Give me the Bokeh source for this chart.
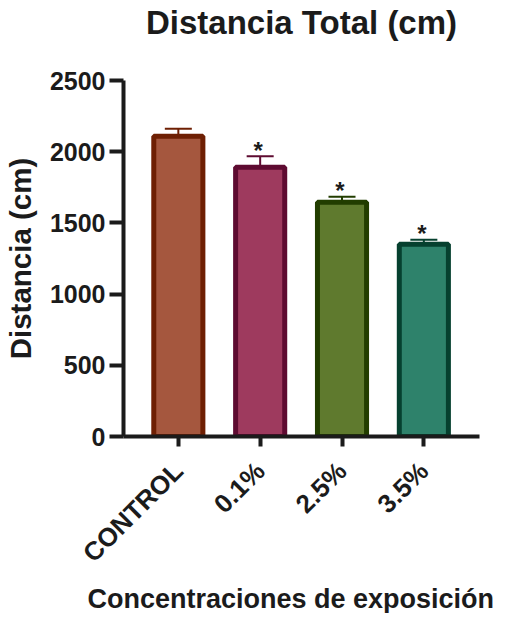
import math
from bokeh.plotting import figure
from bokeh.models import FixedTicker, Range1d, ColumnDataSource, Title
from bokeh.core.properties import value
from bokeh.embed import file_html
from bokeh.resources import INLINE

categories = ["CONTROL", "0.1%", "2.5%", "3.5%"]
means = [2108, 1890, 1645, 1350]
sems = [53, 78, 38, 32]
significant = ["", "*", "*", "*"]
fill_colors = ["#a5573e", "#9e3a5e", "#5f7a2e", "#2e826b"]
line_colors = ["#6e1f03", "#5e0b31", "#223d00", "#06402f"]
y_ticks = [0, 500, 1000, 1500, 2000, 2500]

FONT = "Liberation Sans"
TXT = "#1b1b1b"

xs = list(range(len(categories)))
src = ColumnDataSource(dict(
    x=xs, top=means, fill=fill_colors, line=line_colors,
    up=[m + s for m, s in zip(means, sems)],
    cap_l=[x - 0.165 for x in xs], cap_r=[x + 0.165 for x in xs],
    star=significant,
))

p = figure(frame_width=356, frame_height=356,
           min_border_left=116, min_border_right=32,
           min_border_top=80, min_border_bottom=172,
           x_range=Range1d(-0.67, 3.68), y_range=Range1d(0, 2500),
           output_backend="svg", toolbar_location=None, tools="")
p.outline_line_color = None
p.grid.visible = False
p.background_fill_color = "white"

p.vbar(x="x", top="top", bottom=0, width=0.6, source=src,
       fill_color="fill", line_color="line", line_width=5)
p.segment(x0="x", y0="top", x1="x", y1="up", source=src, line_color="line", line_width=2)
p.segment(x0="cap_l", y0="up", x1="cap_r", y1="up", source=src, line_color="line", line_width=2)
p.text(x="x", y="up", text="star", source=src, text_align="center",
       text_baseline="alphabetic", y_offset=-6, x_offset=-2,
       text_font=value(FONT), text_font_style="bold", text_font_size="24px", text_color=TXT)

# axes
for ax in (p.xaxis[0], p.yaxis[0]):
    ax.axis_line_width = 4
    ax.axis_line_color = TXT
    ax.major_tick_line_width = 4
    ax.major_tick_line_color = TXT
    ax.minor_tick_line_color = None
    ax.major_tick_in = 0
    ax.major_label_text_font = FONT
    ax.major_label_text_font_style = "bold"
    ax.major_label_text_color = TXT

p.yaxis.ticker = FixedTicker(ticks=y_ticks)
p.yaxis.major_tick_out = 14
p.yaxis.major_label_standoff = 4
p.yaxis.major_label_text_font_size = "25px"
p.yaxis.axis_label = "Distancia (cm)"
p.yaxis.axis_label_text_font = FONT
p.yaxis.axis_label_text_font_style = "bold"
p.yaxis.axis_label_text_font_size = "29.5px"
p.yaxis.axis_label_text_color = TXT
p.yaxis.axis_label_standoff = 10

p.xaxis.ticker = FixedTicker(ticks=xs)
p.xaxis.major_label_overrides = {i: c for i, c in zip(xs, categories)}
p.xaxis.major_tick_out = 10
p.xaxis.major_label_standoff = 20
p.xaxis.major_label_text_font_size = "26px"
p.xaxis.major_label_orientation = math.pi / 4

# spacer between frame and title
p.add_layout(Title(text=" ", standoff=35, text_font_size="1px"), "above")
p.add_layout(Title(text="Distancia Total (cm)", align="center", standoff=0,
                   vertical_align="top",
                   text_font=FONT, text_font_style="bold",
                   text_font_size="33px", text_color=TXT), "above")
p.add_layout(Title(text="Concentraciones de exposición", align="left", offset=-36,
                   standoff=0,
                   text_font=FONT, text_font_style="bold",
                   text_font_size="27px", text_color=TXT), "below")

open("out.html", "w").write(file_html(p, INLINE))
